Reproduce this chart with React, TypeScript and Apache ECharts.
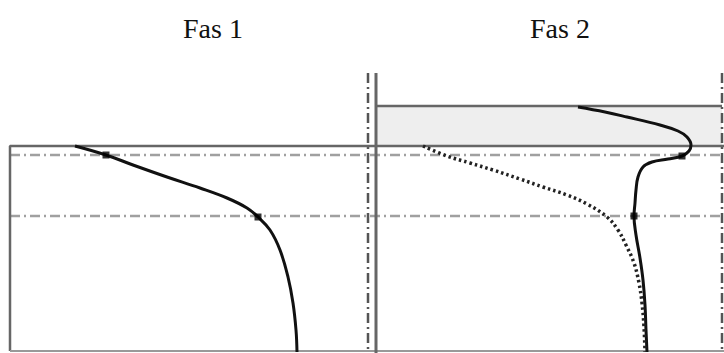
import React, { useEffect, useRef } from "react";
import * as echarts from "echarts";

// Titles of the two phases
const panelTitles = ["Fas 1", "Fas 2"];
const titleX = [213, 560];

// Curves (x = horizontal position, y = depth, both in drawing units)
const fas1Curve = [
  [75, 146], [106, 155], [133, 165], [167, 177], [200, 188], [227, 198], [247, 208],
  [258, 217], [270, 230], [280, 250], [288, 277], [293, 303], [296, 330], [297, 352],
];
const fas2Solid = [
  [578, 107], [605, 112], [627, 117], [660, 125], [678, 131], [687, 137], [691, 145],
  [689, 151], [682, 156], [668, 159], [652, 162], [643, 167], [638, 177], [636, 190],
  [635, 203], [634, 216], [636, 235], [640, 258], [643, 280], [645, 305], [646, 330], [647, 352],
];
const fas2Dotted = [
  [423, 146], [447, 156], [470, 163], [493, 170], [520, 179], [543, 187], [567, 195],
  [587, 204], [607, 217], [618, 230], [626, 245], [634, 263], [639, 283], [642, 303],
  [644, 327], [645, 352],
];
const markerPoints = [[106, 155], [258, 217], [682, 156], [634, 216]];

// Frame
const groundLevel = 146;
const upperLevel = 106;
const bottomLevel = 351;
const leftEdge = 10;
const dividerX = 376;
const guideVertX = [368, 722];
const guideHorizY = [155, 216];
const frameTop = 73;
const xMax = 724;
const yMax = 353;

export default function App() {
  const ref = useRef<HTMLDivElement>(null);
  useEffect(() => {
    if (!ref.current) return;
    const chart = echarts.init(ref.current, null, { renderer: "svg" });
    const frameColor = "#666";
    const guideColor = "#a0a0a0";
    const seg = (pts: number[][], color: string, width: number, type: any, z = 2) => ({
      type: "line",
      data: pts,
      showSymbol: false,
      symbol: "none",
      lineStyle: { color, width, type },
      silent: true,
      z,
    });
    const series: any[] = [
      // grey band
      {
        type: "line",
        data: [],
        markArea: {
          silent: true,
          itemStyle: { color: "#eeeeee" },
          data: [[{ coord: [dividerX, upperLevel] }, { coord: [guideVertX[1], groundLevel] }]],
        },
      },
      ...guideHorizY.map((y) => seg([[leftEdge, y], [xMax, y]], guideColor, 2.5, [10, 4, 2, 4], 1)),
      ...guideVertX.map((x) => seg([[x, frameTop], [x, yMax]], "#555", 2.5, [10, 4, 2, 4], 1)),
      seg([[leftEdge, bottomLevel], [leftEdge, groundLevel], [xMax, groundLevel]], frameColor, 2.5, "solid"),
      seg([[leftEdge, bottomLevel], [xMax, bottomLevel]], "#999", 2, "solid"),
      seg([[dividerX, frameTop], [dividerX, yMax]], frameColor, 3, "solid"),
      seg([[dividerX, upperLevel], [guideVertX[1], upperLevel]], frameColor, 2.5, "solid"),
      {
        type: "line",
        data: fas1Curve,
        smooth: 0.4,
        showSymbol: false,
        lineStyle: { color: "#111", width: 3 },
        z: 5,
      },
      {
        type: "line",
        data: fas2Solid,
        smooth: 0.4,
        showSymbol: false,
        lineStyle: { color: "#111", width: 3 },
        z: 5,
      },
      {
        type: "line",
        data: fas2Dotted,
        smooth: 0.4,
        showSymbol: false,
        lineStyle: { color: "#222", width: 3.5, type: [2.5, 3] },
        z: 5,
      },
      {
        type: "scatter",
        data: markerPoints,
        symbol: "rect",
        symbolSize: 7,
        itemStyle: { color: "#000" },
        z: 6,
      },
    ];
    chart.setOption({
      animation: false,
      grid: { left: 0, top: 0, right: 0, bottom: 0 },
      xAxis: { type: "value", min: 0, max: xMax, show: false },
      yAxis: { type: "value", min: 0, max: yMax, inverse: true, show: false },
      series,
      graphic: panelTitles.map((t, i) => ({
        type: "text",
        x: titleX[i],
        y: 28,
        style: {
          text: t,
          fontFamily: "Liberation Serif",
          fontSize: 28,
          fill: "#111",
          align: "center",
          verticalAlign: "middle",
        },
      })),
    });
    return () => chart.dispose();
  }, []);
  return (
    <div
      ref={ref}
      style={{ position: "absolute", left: 0, top: 0, width: 724, height: 353, background: "#fff" }}
    />
  );
}
